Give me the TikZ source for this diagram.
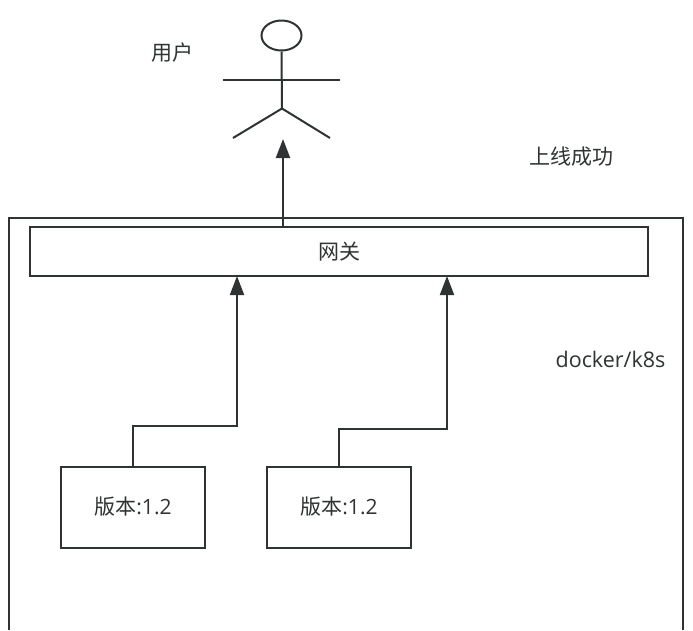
\documentclass[tikz,border=0pt]{standalone}
\usepackage{fontspec}
\setmainfont{Open Sans}
\newfontfamily\cjk{Noto Sans CJK SC}
\usetikzlibrary{arrows.meta,shapes.geometric}
\definecolor{linecol}{HTML}{2F3333}
\tikzset{
  box/.style={draw=linecol, line width=2pt, inner sep=0pt},
  lbl/.style={text=linecol, font=\fontsize{21pt}{24pt}\selectfont, inner sep=0pt},
  flow/.style={draw=linecol, line width=2pt, -{Triangle[length=19pt,width=14pt]}},
  stick/.style={draw=linecol, line width=2pt}
}
\begin{document}
\begin{tikzpicture}[x=1pt,y=-1pt]
  \useasboundingbox (0,0) rectangle (693,630);
  \fill[white] (0,0) rectangle (693,630);
  % outer frame, open at the bottom
  \coordinate (fb1) at (9,630);
  \coordinate (fb2) at (683,630);
  \draw[stick] (fb1) -- (9,218) -- (683,218) -- (fb2);
  % gateway and the two versions
  \node[box, minimum width=618pt, minimum height=49pt] (gate) at (339,251.5) {};
  \node[lbl] (gatetext) at (339,252) {\cjk 网关};
  \node[box, minimum width=144pt, minimum height=81pt] (v1) at (133,507) {};
  \node[lbl] (v1text) at (133,507) {\cjk 版本\rmfamily:1.2};
  \node[box, minimum width=144pt, minimum height=81pt] (v2) at (339,507) {};
  \node[lbl] (v2text) at (339,507) {\cjk 版本\rmfamily:1.2};
  % the user
  \node[box, ellipse, minimum width=40pt, minimum height=30pt] (head) at (281.5,35.5) {};
  \coordinate (armL) at (223,80);
  \coordinate (armR) at (340,80);
  \coordinate (hip) at (282,108.5);
  \coordinate (legL) at (233,138);
  \coordinate (legR) at (330,138);
  \draw[stick] (head.south) -- (hip);
  \draw[stick] (armL) -- (armR);
  \draw[stick] (legL) -- (hip) -- (legR);
  \node[lbl] (user) at (172,53) {\cjk 用户};
  \node[lbl] (online) at (571.5,157) {\cjk 上线成功};
  \node[lbl, font=\fontsize{21.5pt}{24pt}\selectfont] (docker) at (610.5,359) {docker/k8s};
  % connectors
  \coordinate (tipuser) at (283,139);
  \coordinate (tip1) at (237,276);
  \coordinate (tip2) at (447,276);
  \draw[flow] (283,227) -- (tipuser);
  \draw[flow] (v1.north) -- (133,425.5) -- (237,425.5) -- (tip1);
  \draw[flow] (v2.north) -- (339,428.5) -- (447,428.5) -- (tip2);
\end{tikzpicture}
\end{document}
